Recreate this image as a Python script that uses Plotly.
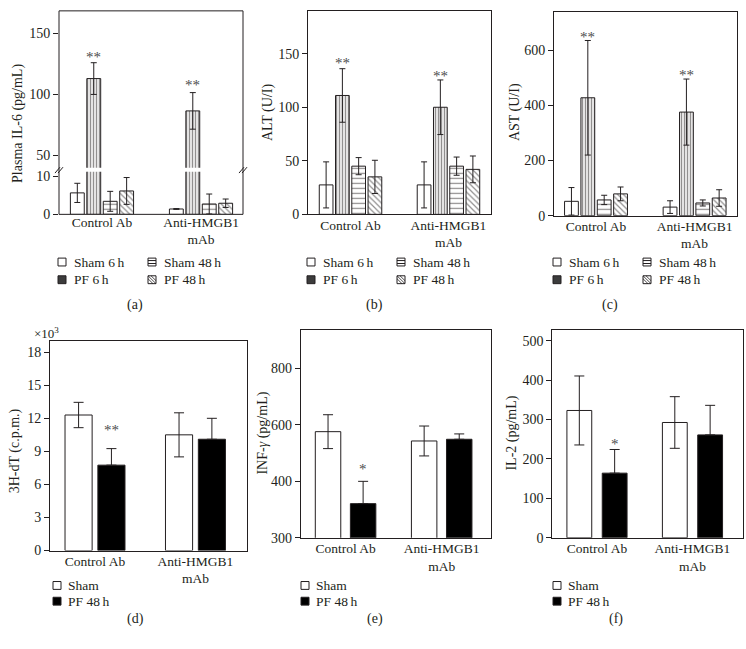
import plotly.graph_objects as go

W, H = 746, 649
INK = "#231f20"
FONT = "Liberation Serif"

groups = ["Control Ab", "Anti-HMGB1<br>mAb"]

# (a) plasma IL-6 (pg/mL)
il6_sham6 = [5.6, 1.4]
il6_sham6_err = [2.5, 0.1]
il6_pf6 = [113, 86.5]
il6_pf6_err = [13, 15]
il6_sham48 = [3.4, 2.7]
il6_sham48_err = [2.6, 2.6]
il6_pf48 = [6.1, 2.9]
il6_pf48_err = [3.5, 1.1]
il6_sig = [132.5, 109]

# (b) ALT (U/I)
alt_sham6 = [27.5, 27.5]
alt_sham6_err = [21.5, 21.5]
alt_pf6 = [111, 100]
alt_pf6_err = [25, 25.5]
alt_sham48 = [45, 45]
alt_sham48_err = [8, 8.5]
alt_pf48 = [35, 42]
alt_pf48_err = [15.5, 12.5]
alt_sig = [143, 131.5]

# (c) AST (U/I)
ast_sham6 = [52, 31]
ast_sham6_err = [50, 23]
ast_pf6 = [428, 376]
ast_pf6_err = [208, 120]
ast_sham48 = [57, 46]
ast_sham48_err = [17, 11]
ast_pf48 = [79, 64]
ast_pf48_err = [25, 30]
ast_sig = [657, 519]

# (d) 3H-dT (c.p.m., x10^3)
thy_sham = [12.3, 10.5]
thy_sham_err = [1.15, 2.0]
thy_pf48 = [7.75, 10.1]
thy_pf48_err = [1.5, 1.9]
thy_sig = [11.1]

# (e) INF-gamma (pg/mL)
ifn_sham = [576, 543]
ifn_sham_err = [60, 53]
ifn_pf48 = [321, 549]
ifn_pf48_err = [79, 19]
ifn_sig = [450]

# (f) IL-2 (pg/mL)
il2_sham = [323, 292.5]
il2_sham_err = [87.5, 65.5]
il2_pf48 = [164, 261]
il2_pf48_err = [60, 75]
il2_sig = [244]


def fx(p):
    return p / W


def fy(p):
    return 1 - p / H


STYLE = {
    "sham6": dict(color="white"),
    "pf6": dict(color="white", pattern=dict(shape="|", fgcolor=INK, bgcolor="white", size=3, solidity=0.5)),
    "sham48": dict(color="white", pattern=dict(shape="-", fgcolor=INK, bgcolor="white", size=5, solidity=0.25)),
    "pf48h": dict(color="white", pattern=dict(shape="\\", fgcolor=INK, bgcolor="white", size=4, solidity=0.3)),
    "sham": dict(color="white"),
    "pf48": dict(color="black"),
}

fig = go.Figure()


def add_bars(xa, ya, series, bw, gap, cap):
    n = len(series)
    group = n * bw + (n - 1) * gap
    for i, (vals, errs, key) in enumerate(series):
        st = STYLE[key]
        marker = dict(color=st["color"], line=dict(color=INK, width=1))
        if "pattern" in st:
            marker["pattern"] = st["pattern"]
        err = dict(type="data", array=errs, color=INK, thickness=1, width=cap)
        if st["color"] == "black":
            # lower half disappears into the solid bar
            err.update(symmetric=False, arrayminus=[0] * len(errs))
        fig.add_trace(go.Bar(
            x=groups, y=vals, width=bw, offset=-group / 2 + i * (bw + gap),
            xaxis=xa, yaxis=ya, marker=marker, showlegend=False, error_y=err,
        ))
    # centre of the 2nd bar in each group, used for the stars
    return -group / 2 + (bw + gap) + bw / 2


top_series_a = [(il6_sham6, il6_sham6_err, "sham6"), (il6_pf6, il6_pf6_err, "pf6"),
                (il6_sham48, il6_sham48_err, "sham48"), (il6_pf48, il6_pf48_err, "pf48h")]
off_a = add_bars("x", "y", top_series_a, 0.14, 0.026, 3)
add_bars("x2", "y2", top_series_a, 0.14, 0.026, 3)
off_b = add_bars("x3", "y3", [(alt_sham6, alt_sham6_err, "sham6"), (alt_pf6, alt_pf6_err, "pf6"),
                              (alt_sham48, alt_sham48_err, "sham48"), (alt_pf48, alt_pf48_err, "pf48h")], 0.14, 0.026, 3)
off_c = add_bars("x4", "y4", [(ast_sham6, ast_sham6_err, "sham6"), (ast_pf6, ast_pf6_err, "pf6"),
                              (ast_sham48, ast_sham48_err, "sham48"), (ast_pf48, ast_pf48_err, "pf48h")], 0.14, 0.026, 3)
off_d = add_bars("x5", "y5", [(thy_sham, thy_sham_err, "sham"), (thy_pf48, thy_pf48_err, "pf48")], 0.27, 0.057, 5)
off_e = add_bars("x6", "y6", [(ifn_sham, ifn_sham_err, "sham"), (ifn_pf48, ifn_pf48_err, "pf48")], 0.265, 0.1, 5)
off_f = add_bars("x7", "y7", [(il2_sham, il2_sham_err, "sham"), (il2_pf48, il2_pf48_err, "pf48")], 0.26, 0.11, 5)

tickfont = dict(family=FONT, size=14, color=INK)
xtickfont = dict(family=FONT, size=13.5, color=INK)


def xax(left, right, xr, show=True, anchor=None, boxed=True):
    return dict(domain=[fx(left), fx(right)], range=xr, type="category", showgrid=False,
                showticklabels=show, ticks="", tickfont=xtickfont, anchor=anchor,
                ticklabelstandoff=-2,
                showline=boxed, mirror=boxed, linecolor=INK, linewidth=1, zeroline=False)


def yax(top, bottom, yr, tickvals, ticktext=None, anchor=None, boxed=True):
    d = dict(domain=[fy(bottom), fy(top)], range=yr, showgrid=False, zeroline=False,
             tickvals=tickvals, ticks="outside", ticklen=5, tickwidth=1, tickcolor=INK,
             tickfont=tickfont, anchor=anchor, showline=boxed, mirror=boxed,
             linecolor=INK, linewidth=1)
    if ticktext:
        d["ticktext"] = ticktext
    return d


fig.update_layout(
    width=W, height=H, margin=dict(l=0, r=0, t=0, b=0),
    paper_bgcolor="white", plot_bgcolor="white", barmode="overlay",
    font=dict(family=FONT, color=INK),
    xaxis=xax(59, 243, [-0.434, 1.424], anchor="y", boxed=False),
    yaxis=yax(171.7, 215, [0, 11.1], [0, 10], anchor="x", boxed=False),
    xaxis2=xax(59, 243, [-0.434, 1.424], show=False, anchor="y2", boxed=False),
    yaxis2=yax(8, 167.7, [39.8, 168.5], [50, 100, 150], anchor="x2", boxed=False),
    xaxis3=xax(308, 491, [-0.434, 1.434], anchor="y3"),
    yaxis3=yax(8, 215, [0, 190], [0, 50, 100, 150], anchor="x3"),
    xaxis4=xax(554, 737, [-0.426, 1.43], anchor="y4"),
    yaxis4=yax(9, 216.3, [0, 740], [0, 200, 400, 600], anchor="x4"),
    xaxis5=xax(50, 246.7, [-0.448, 1.51], anchor="y5"),
    yaxis5=yax(344, 557, [0, 19], [0, 3, 6, 9, 12, 15, 18], anchor="x5"),
    xaxis6=xax(300.7, 490.7, [-0.467, 1.51], anchor="y6"),
    yaxis6=yax(332.7, 544, [200, 936], [200, 400, 600, 800], ["300", "400", "600", "800"], anchor="x6"),
    xaxis7=xax(552.3, 742.7, [-0.468, 1.526], anchor="y7"),
    yaxis7=yax(332.7, 544, [0, 527], [0, 100, 200, 300, 400, 500], anchor="x7"),
)

shapes = []
ann = []

# frame and axis-break marks for panel (a)
shapes.append(dict(type="rect", xref="paper", yref="paper", x0=fx(59), x1=fx(243), y0=fy(215), y1=fy(8),
                   line=dict(color=INK, width=1)))
for bx in (59, 243):
    for dx in (-4, -1):
        shapes.append(dict(type="line", xref="paper", yref="paper",
                           x0=fx(bx + dx), y0=fy(173), x1=fx(bx + dx + 5), y1=fy(167),
                           line=dict(color=INK, width=1)))

# significance stars
for xa, ya, off, ys, txt in [("x2", "y2", off_a, il6_sig, "**"), ("x3", "y3", off_b, alt_sig, "**"),
                             ("x4", "y4", off_c, ast_sig, "**"), ("x5", "y5", off_d, thy_sig, "**"),
                             ("x6", "y6", off_e, ifn_sig, "*"), ("x7", "y7", off_f, il2_sig, "*")]:
    for i, yv in enumerate(ys):
        ann.append(dict(x=i + off, y=yv, xref=xa, yref=ya, text=txt, showarrow=False, yshift=-2,
                        font=dict(family=FONT, size=15, color="#4d4d4d"), yanchor="middle"))

# y-axis titles
for cx, cy, txt in [(18, 123, "Plasma IL-6 (pg/mL)"), (268, 111, "ALT (U/I)"), (515, 111, "AST (U/I)"),
                    (15, 456, "3H-dT (c.p.m.)"), (263, 438, "INF-<i>γ</i> (pg/mL)"), (512, 438, "IL-2 (pg/mL)")]:
    ann.append(dict(x=fx(cx), y=fy(cy), xref="paper", yref="paper", text=txt, textangle=-90,
                    showarrow=False, xanchor="center", yanchor="middle",
                    font=dict(family=FONT, size=14, color=INK)))

ann.append(dict(x=fx(32), y=fy(336), xref="paper", yref="paper", text="×10<sup>3</sup>", showarrow=False,
                xanchor="left", yanchor="middle", font=dict(family=FONT, size=13, color=INK)))

# panel letters
for cx, cy, txt in [(125, 307, "(a)"), (374, 307, "(b)"), (620, 307, "(c)"),
                    (125, 637, "(d)"), (375, 637, "(e)"), (625, 637, "(f)")]:
    ann.append(dict(x=fx(cx), y=fy(cy), xref="paper", yref="paper", text=txt, showarrow=False,
                    font=dict(family=FONT, size=14, color=INK)))


def icon(cx, cy, kind, s=8):
    x0, x1, y0, y1 = cx - s / 2, cx + s / 2, cy - s / 2, cy + s / 2
    fill = {"pf6": "#3c3c3c", "pf48": "black"}.get(kind, "white")
    shapes.append(dict(type="rect", xref="paper", yref="paper", x0=fx(x0), x1=fx(x1), y0=fy(y1), y1=fy(y0),
                       fillcolor=fill, line=dict(color=INK, width=1)))
    if kind == "sham48":
        for yy in (cy - 1.5, cy + 1.5):
            shapes.append(dict(type="line", xref="paper", yref="paper", x0=fx(x0), x1=fx(x1),
                               y0=fy(yy), y1=fy(yy), line=dict(color=INK, width=1)))
    if kind == "pf48h":
        for d in (-3, 0, 3):
            a0, a1 = max(x0, x0 + d), min(x1, x1 + d)
            shapes.append(dict(type="line", xref="paper", yref="paper",
                               x0=fx(a0), y0=fy(y0 + (a0 - x0 - d)), x1=fx(a1), y1=fy(y0 + (a1 - x0 - d)),
                               line=dict(color=INK, width=0.8)))


def label(x, y, txt):
    ann.append(dict(x=fx(x), y=fy(y), xref="paper", yref="paper", text=txt, showarrow=False,
                    xanchor="left", yanchor="middle", font=dict(family=FONT, size=13.5, color=INK)))


for left in (62, 311, 557):
    icon(left, 263.5, "sham6")
    label(left + 10, 263.5, "Sham 6\u2009h")
    icon(left, 281.5, "pf6")
    label(left + 10, 281.5, "PF 6\u2009h")
    icon(left + 90, 263.5, "sham48")
    label(left + 100, 263.5, "Sham 48\u2009h")
    icon(left + 90, 281.5, "pf48h")
    label(left + 100, 281.5, "PF 48\u2009h")

for left in (57, 305, 557):
    icon(left, 592.5, "sham")
    label(left + 9, 592.5, "Sham")
    icon(left, 608.5, "pf48")
    label(left + 9, 608.5, "PF 48\u2009h")

fig.update_layout(shapes=shapes, annotations=ann)

# the default page keeps the browser's 8px body margin; drop it so the figure sits at 0,0
fig.write_html("out.html", config={"displayModeBar": False},
               post_script="document.body.style.margin='0';")
